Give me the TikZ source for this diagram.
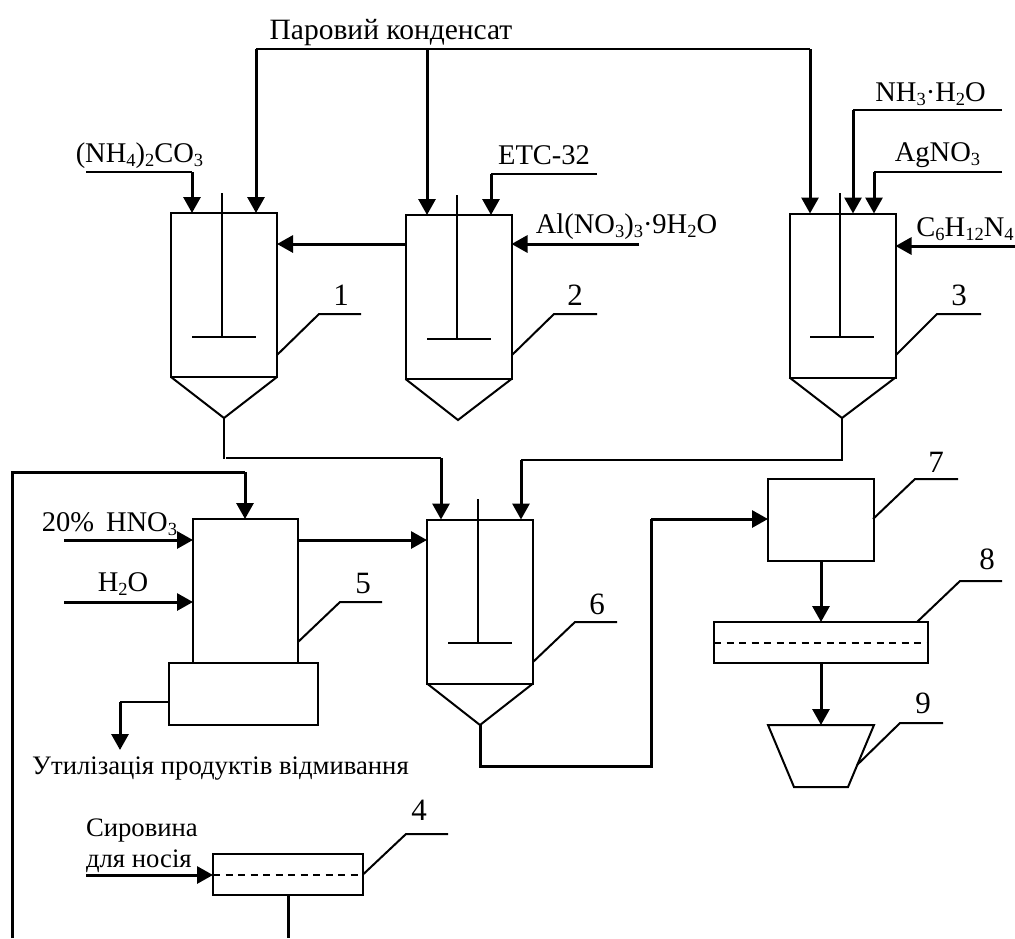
\documentclass[tikz,border=0pt]{standalone}
\usepackage{fontspec}
\setmainfont{Liberation Serif}
\usetikzlibrary{arrows.meta}
\newcommand\lo[1]{\raisebox{-.17em}{\fontsize{18.5}{18.5}\selectfont #1}}
\tikzset{
  box/.style={draw,rectangle,line width=2pt,inner sep=0,outer sep=0,fill=none},
  vesselbox/.style={box,minimum width=106pt,minimum height=164pt},
  thin line/.style={line width=2pt,line join=miter},
  thick line/.style={line width=3pt,line join=miter},
  flow/.style={thick line,-{Triangle[width=17pt,length=16pt]}},
  lab/.style={anchor=base,inner sep=0,outer sep=0,font=\fontsize{28.5}{30}\selectfont},
  word/.style={lab,font=\fontsize{26.7}{30}\selectfont},
  num/.style={lab,font=\fontsize{31}{32}\selectfont},
  dashline/.style={line width=2pt,dash pattern=on 7pt off 5.5pt}
}
\begin{document}
\begin{tikzpicture}[x=1pt,y=-1pt]
\useasboundingbox (0,0) rectangle (1015,938);
% vessels
\node[vesselbox] (v1) at (224,295) {};
\node[vesselbox] (v2) at (458.5,297) {};
\node[vesselbox] (v3) at (842.5,295.5) {};
\node[vesselbox] (v6) at (480,601.5) {};
\node[box,minimum width=105pt,minimum height=144pt] (v5) at (245.5,591) {};
\node[box,minimum width=149pt,minimum height=62pt] (b5) at (243.5,694) {};
\node[box,minimum width=150pt,minimum height=41pt] (b4) at (288,874.5) {};
\node[box,minimum width=106pt,minimum height=82pt] (b7) at (821,520) {};
\node[box,minimum width=214pt,minimum height=41pt] (b8) at (821,642.5) {};
% cones
\coordinate (t1) at (224,418); \coordinate (t2) at (458,420);
\coordinate (t3) at (842,418); \coordinate (t6) at (480,725);
\draw[thin line] (v1.south west) -- (t1) -- (v1.south east);
\draw[thin line] (v2.south west) -- (t2) -- (v2.south east);
\draw[thin line] (v3.south west) -- (t3) -- (v3.south east);
\draw[thin line] (v6.south west) -- (t6) -- (v6.south east);
% agitators
\coordinate (s1) at (222,193); \coordinate (h1) at (222,337); \coordinate (bl1) at (192,337); \coordinate (br1) at (256,337);
\coordinate (s2) at (457,195); \coordinate (h2) at (457,339); \coordinate (bl2) at (427,339); \coordinate (br2) at (491,339);
\coordinate (s3) at (840,193); \coordinate (h3) at (840,337); \coordinate (bl3) at (810,337); \coordinate (br3) at (874,337);
\coordinate (s6) at (478,499); \coordinate (h6) at (478,643); \coordinate (bl6) at (448,643); \coordinate (br6) at (512,643);
\draw[thin line] (s1) -- (h1) (bl1) -- (br1);
\draw[thin line] (s2) -- (h2) (bl2) -- (br2);
\draw[thin line] (s3) -- (h3) (bl3) -- (br3);
\draw[thin line] (s6) -- (h6) (bl6) -- (br6);
% trapezoid 9
\coordinate (z1) at (768,725); \coordinate (z2) at (874,725); \coordinate (z3) at (848,787); \coordinate (z4) at (794,787);
\draw[thin line] (z1) -- (z2) -- (z3) -- (z4) -- cycle;
\coordinate (z9) at (821,725);
% dashed
\draw[dashline] (b4.west) -- (b4.east);
\draw[dashline] (b8.west) -- (b8.east);
% steam condensate
\coordinate (k1) at (256,49); \coordinate (k2) at (427,49); \coordinate (k3) at (810,49);
\draw[thin line] (k1) -- (k3);
\draw[flow] (k1) -- (k1 |- v1.north);
\draw[flow] (k2) -- (k2 |- v2.north);
\draw[flow] (k3) -- (k3 |- v3.north);
\node[lab,font=\fontsize{29.5}{30}\selectfont] (tk) at (391,39) {Паровий конденсат};
% reagents
\coordinate (a1) at (86,172); \coordinate (a1x) at (192,172);
\draw[thin line] (a1) -- (a1x);
\draw[flow] (a1x) -- (a1x |- v1.north);
\node[lab] (ta1) at (139.5,162) {(NH\lo{4})\lo{2}CO\lo{3}};
\coordinate (a2) at (597,174); \coordinate (a2x) at (491,174);
\draw[thin line] (a2) -- (a2x);
\draw[flow] (a2x) -- (a2x |- v2.north);
\node[lab] (ta2) at (544,164) {ЕТС-32};
\coordinate (a3) at (639,244);
\draw[flow] (a3) -- (a3 -| v2.east);
\node[lab] (ta3) at (626.5,233) {Al(NO\lo{3})\lo{3}·9H\lo{2}O};
\coordinate (a21) at (405,244);
\draw[flow] (a21) -- (a21 -| v1.east);
\coordinate (a4) at (1002,110); \coordinate (a4x) at (853,110);
\draw[thin line] (a4) -- (a4x);
\draw[flow] (a4x) -- (a4x |- v3.north);
\node[lab] (ta4) at (930.5,101) {NH\lo{3}·H\lo{2}O};
\coordinate (a5) at (1002,172); \coordinate (a5x) at (874,172);
\draw[thin line] (a5) -- (a5x);
\draw[flow] (a5x) -- (a5x |- v3.north);
\node[lab] (ta5) at (937.5,161) {AgNO\lo{3}};
\coordinate (a6) at (1015,246);
\draw[flow] (a6) -- (a6 -| v3.east);
\node[lab] (ta6) at (965,236) {C\lo{6}H\lo{12}N\lo{4}};
% to vessel 6
\coordinate (c1) at (441,458); \coordinate (c1a) at (226,458); \coordinate (c1b) at (224,459);
\draw[thin line] (t1) -- (c1b);
\draw[thin line] (c1a) -- (c1);
\draw[flow] (c1) -- (c1 |- v6.north);
\coordinate (c3) at (521,460); \coordinate (c3b) at (842,460);
\draw[thin line] (t3) -- (c3b) -- (c3);
\draw[flow] (c3) -- (c3 |- v6.north);
% return line
\coordinate (r0) at (12,938); \coordinate (r1) at (12,472); \coordinate (r2) at (245,472);
\draw[thick line] (r0) -- (r1) -- (r2);
\draw[flow] (r2) -- (r2 |- v5.north);
% vessel 5
\coordinate (n1) at (64,540); \coordinate (n2) at (64,602);
\draw[flow] (n1) -- (n1 -| v5.west);
\draw[flow] (n2) -- (n2 -| v5.west);
\node[lab] (tn1) at (109.5,531) {20\% \,HNO\lo{3}};
\node[lab] (tn2) at (123,591) {H\lo{2}O};
\coordinate (n3) at (298,540);
\draw[flow] (n3) -- (n3 -| v6.west);
\coordinate (o1) at (120,702); \coordinate (o1s) at (120,750);
\draw[thin line] (o1 -| b5.west) -- (o1);
\draw[flow] (o1) -- (o1s);
\node[word] (to1) at (220.5,774) {Утилізація продуктів відмивання};
% unit 4
\node[word,anchor=base west] (tr1) at (86,836) {Сировина};
\node[word,anchor=base west] (tr2) at (86,867) {для носія};
\coordinate (f4) at (86,875);
\draw[flow] (f4) -- (f4 -| b4.west);
\coordinate (f4e) at (288,938);
\draw[thick line] (b4.south) -- (f4e);
% vessel 6 -> 7
\coordinate (d1) at (480,766); \coordinate (d2) at (651,766); \coordinate (d3) at (651,519);
\draw[thick line] (t6) -- (d1) -- (d2) -- (d3);
\draw[flow] (d3) -- (d3 -| b7.west);
\draw[flow] (b7.south) -- (b8.north);
\draw[flow] (b8.south) -- (z9);
% leaders
\tikzset{leader/.style={thin line}}
\draw[leader] (277,355) -- (319,314) -- (361,314);
\draw[leader] (512,355) -- (554,314) -- (597,314);
\draw[leader] (896,355) -- (937,314) -- (981,314);
\draw[leader] (298,642) -- (340,602) -- (382,602);
\draw[leader] (533,662) -- (575,622) -- (617,622);
\draw[leader] (873,519) -- (915,479) -- (958,479);
\draw[leader] (917,622) -- (960,581) -- (1002,581);
\draw[leader] (857,765) -- (900,723) -- (943,723);
\draw[leader] (b4.east) -- (406,834) -- (448,834);
\node[num] (l1) at (341,305) {1};
\node[num] (l2) at (575,305) {2};
\node[num] (l3) at (959,305) {3};
\node[num] (l4) at (419,820) {4};
\node[num] (l5) at (363,593) {5};
\node[num] (l6) at (597,614) {6};
\node[num] (l7) at (936,472) {7};
\node[num] (l8) at (987,569) {8};
\node[num] (l9) at (923,713) {9};
\end{tikzpicture}
\end{document}
